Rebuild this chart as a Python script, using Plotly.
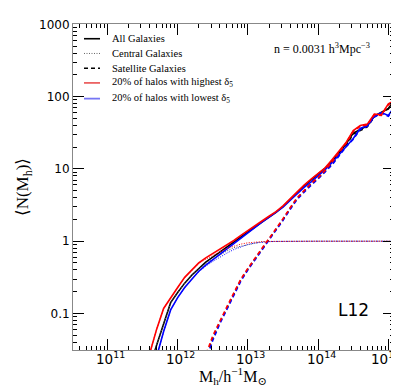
import numpy as np
import plotly.graph_objects as go

# log10 halo mass grid (h^-1 Msun)
logM = [11.5, 11.6, 11.7, 11.8, 11.9, 12.0, 12.1, 12.2, 12.3, 12.4, 12.5, 12.6, 12.7,
        12.8, 12.9, 13.0, 13.1, 13.2, 13.3, 13.4, 13.5, 13.6, 13.7, 13.8, 13.9, 14.0,
        14.1, 14.2, 14.3, 14.4, 14.5, 14.6, 14.7, 14.8, 14.9, 15.0, 15.1]

# log10 <N> : all galaxies
all_black = [-2.1, -1.75, -1.44, -1.13, -0.85, -0.71, -0.58, -0.47, -0.375, -0.29, -0.22, -0.15, -0.08,
             -0.01, 0.065, 0.135, 0.205, 0.27, 0.335, 0.40, 0.48, 0.575, 0.675, 0.765, 0.85, 0.925,
             1.01, 1.105, 1.225, 1.35, 1.495, 1.545, 1.595, 1.73, 1.78, 1.835, 1.975]
all_red = [-1.9, -1.55, -1.22, -0.93, -0.78, -0.64, -0.50, -0.395, -0.30, -0.23, -0.17, -0.11, -0.055,
           0.01, 0.08, 0.15, 0.215, 0.28, 0.345, 0.41, 0.49, 0.585, 0.685, 0.775, 0.86, 0.935,
           1.015, 1.13, 1.25, 1.37, 1.53, 1.60, 1.62, 1.76, 1.75, 1.90, 1.95]
all_blue = [-2.3, -1.95, -1.6, -1.25, -0.95, -0.78, -0.64, -0.52, -0.415, -0.33, -0.255, -0.18, -0.11,
            -0.035, 0.05, 0.125, 0.2, 0.265, 0.33, 0.395, 0.47, 0.565, 0.66, 0.745, 0.82, 0.905,
            0.99, 1.09, 1.20, 1.32, 1.42, 1.56, 1.60, 1.73, 1.78, 1.74, 1.88]

# log10 <N_cen>
cen_black = [-2.1, -1.75, -1.44, -1.13, -0.85, -0.71, -0.58, -0.475, -0.385, -0.31, -0.25, -0.19, -0.135,
             -0.09, -0.07, -0.04, -0.02, -0.008, -0.004, -0.002, -0.001, 0, 0, 0, 0, 0,
             0, 0, 0, 0, 0, 0, 0, 0, 0, 0, 0]
cen_red = [-1.9, -1.55, -1.22, -0.93, -0.78, -0.64, -0.505, -0.40, -0.31, -0.25, -0.195, -0.145, -0.10,
           -0.065, -0.04, -0.022, -0.012, -0.006, -0.003, -0.001, 0, 0, 0, 0, 0, 0,
           0, 0, 0, 0, 0, 0, 0, 0, 0, 0, 0]
cen_blue = [-2.3, -1.95, -1.6, -1.25, -0.95, -0.78, -0.645, -0.525, -0.425, -0.345, -0.28, -0.22, -0.165,
            -0.115, -0.075, -0.045, -0.025, -0.012, -0.006, -0.003, -0.001, 0, 0, 0, 0, 0,
            0, 0, 0, 0, 0, 0, 0, 0, 0, 0, 0]

# log10 <N_sat>
sat_black = [-4.0, -3.6, -3.2, -2.9, -2.7, -2.5, -2.3, -2.15, -2.0, -1.62, -1.34, -1.12, -0.93,
             -0.73, -0.535, -0.385, -0.25, -0.115, 0.015, 0.155, 0.30, 0.45, 0.59, 0.69, 0.79, 0.87,
             0.97, 1.07, 1.20, 1.33, 1.48, 1.53, 1.58, 1.72, 1.77, 1.83, 1.97]
sat_red = [-4.0, -3.6, -3.2, -2.9, -2.7, -2.5, -2.3, -2.1, -1.95, -1.58, -1.31, -1.10, -0.91,
           -0.715, -0.525, -0.375, -0.24, -0.105, 0.025, 0.165, 0.31, 0.46, 0.60, 0.70, 0.80, 0.88,
           0.98, 1.10, 1.23, 1.36, 1.52, 1.59, 1.61, 1.75, 1.74, 1.89, 1.94]
sat_blue = [-4.0, -3.6, -3.2, -2.9, -2.7, -2.5, -2.3, -2.2, -2.05, -1.66, -1.37, -1.14, -0.95,
            -0.745, -0.55, -0.395, -0.26, -0.125, 0.005, 0.145, 0.29, 0.44, 0.58, 0.68, 0.77, 0.86,
            0.96, 1.06, 1.18, 1.31, 1.41, 1.55, 1.59, 1.72, 1.77, 1.73, 1.87]

x_major = [11, 12, 13, 14, 15]
x_labels = ["10<sup>11</sup>", "10<sup>12</sup>", "10<sup>13</sup>", "10<sup>14</sup>", "10<sup>15</sup>"]
y_major = [-1, 0, 1, 2, 3]
y_labels = ["0.1", "1", "10", "100", "1000"]

legend_labels = ["All Galaxies", "Central Galaxies", "Satellite Galaxies",
                 "20% of halos with highest δ<sub>5</sub>", "20% of halos with lowest δ<sub>5</sub>"]

M = [10 ** v for v in logM]
def lin(a):
    return [10 ** v for v in a]

SERIF = "Liberation Serif, DejaVu Serif, serif"
SANS = "DejaVu Sans, sans-serif"
DOT = "1px,1.5px"
DASH = "4px,3px"

fig = go.Figure()

# black reference curves
fig.add_trace(go.Scatter(x=M, y=lin(all_black), mode="lines", line=dict(color="black", width=1.6)))
fig.add_trace(go.Scatter(x=M, y=lin(cen_black), mode="lines", line=dict(color="#555555", width=1, dash=DOT)))
fig.add_trace(go.Scatter(x=M, y=lin(sat_black), mode="lines", line=dict(color="black", width=1.4, dash=DASH)))
# blue (lowest delta5)
fig.add_trace(go.Scatter(x=M, y=lin(all_blue), mode="lines", line=dict(color="blue", width=1.6)))
fig.add_trace(go.Scatter(x=M, y=lin(cen_blue), mode="lines", line=dict(color="blue", width=1, dash=DOT)))
fig.add_trace(go.Scatter(x=M, y=lin(sat_blue), mode="lines", line=dict(color="blue", width=1.7, dash=DASH)))
# red (highest delta5)
fig.add_trace(go.Scatter(x=M, y=lin(all_red), mode="lines", line=dict(color="red", width=1.6)))
fig.add_trace(go.Scatter(x=M, y=lin(cen_red), mode="lines", line=dict(color="red", width=1, dash=DOT)))
fig.add_trace(go.Scatter(x=M, y=lin(sat_red), mode="lines", line=dict(color="red", width=1.7, dash=DASH)))

x_minor = [m * 10 ** k for k in range(10, 16) for m in range(2, 10)]
y_minor = [m * 10 ** k for k in range(-2, 4) for m in range(2, 10)]

axis_common = dict(type="log", showgrid=False, zeroline=False, showline=True,
                   linecolor="#888888", linewidth=1, mirror="allticks",
                   ticks="inside", ticklen=11, tickwidth=1, tickcolor="black")

fig.update_xaxes(**axis_common, range=[10.51, 15.08],
                 tickmode="array", tickvals=[10 ** v for v in x_major], showticklabels=False,
                 minor=dict(ticks="inside", ticklen=4, tickcolor="black", tickvals=x_minor))
fig.update_yaxes(**axis_common, range=[-1.505, 3.005],
                 tickmode="array", tickvals=[10 ** v for v in y_major], ticktext=y_labels,
                 tickfont=dict(family=SANS, size=12, color="black"),
                 minor=dict(ticks="inside", ticklen=4, tickcolor="black", tickvals=y_minor))

# pixel -> paper helpers (plot area: x 65..386, y 10..342)
def px(x):
    return (x - 65) / 321.0
def py(y):
    return (342 - y) / 332.0

# x tick labels (placed at the axis tick values)
for v, lbl in zip(x_major, x_labels):
    fig.add_annotation(text=lbl, xref="x", yref="paper", x=v, y=py(350),
                       xanchor="center", yanchor="middle", showarrow=False,
                       xshift=(3 if v < 15 else -3),
                       font=dict(family=SANS, size=13.5, color="black"))

fig.add_shape(type="line", xref="paper", yref="y", x0=0, x1=1, y0=0, y1=0,
              line=dict(color="#cccccc", width=1, dash=DASH), layer="below")

# manual legend
leg_styles = [dict(color="black", width=1.6),
              dict(color="#666666", width=1, dash=DOT),
              dict(color="black", width=1.4, dash=DASH),
              dict(color="rgba(230,60,60,0.8)", width=1.8),
              dict(color="rgba(60,60,240,0.7)", width=1.8)]
leg_y = [25, 40, 55, 70, 86]
for lbl, st, yy in zip(legend_labels, leg_styles, leg_y):
    fig.add_shape(type="line", xref="paper", yref="paper", x0=px(76), x1=px(92),
                  y0=py(yy), y1=py(yy), line=st)
    fig.add_annotation(text=lbl, xref="paper", yref="paper", x=px(102), y=py(yy),
                       xanchor="left", yanchor="middle", showarrow=False,
                       font=dict(family=SERIF, size=10.5, color="black"))

fig.add_annotation(text="n = 0.0031 h<sup>3</sup>Mpc<sup>−3</sup>", xref="paper", yref="paper",
                   x=px(364), y=py(35), xanchor="right", yanchor="middle", showarrow=False,
                   font=dict(family=SERIF, size=12, color="black"))
fig.add_annotation(text="L12", xref="paper", yref="paper", x=px(345), y=py(301),
                   xanchor="center", yanchor="middle", showarrow=False,
                   font=dict(family=SANS, size=17, color="black"))

# axis titles
fig.add_annotation(text="M<sub>h</sub>/h<sup>−1</sup>M<sub>⊙</sub>", xref="paper", yref="paper",
                   x=px(225), y=py(368), xanchor="center", yanchor="middle", showarrow=False,
                   font=dict(family=SERIF, size=16, color="black"))
fig.add_annotation(text="⟨N(M<sub>h</sub>)⟩", xref="paper", yref="paper",
                   x=px(16), y=py(176), xanchor="center", yanchor="middle", showarrow=False,
                   textangle=-90, font=dict(family=SERIF, size=17, color="black"))

fig.update_layout(
    width=399, height=389,
    margin=dict(l=65, r=13, t=10, b=47),
    paper_bgcolor="white", plot_bgcolor="white",
    showlegend=False,
)

fig.write_html("out.html")
